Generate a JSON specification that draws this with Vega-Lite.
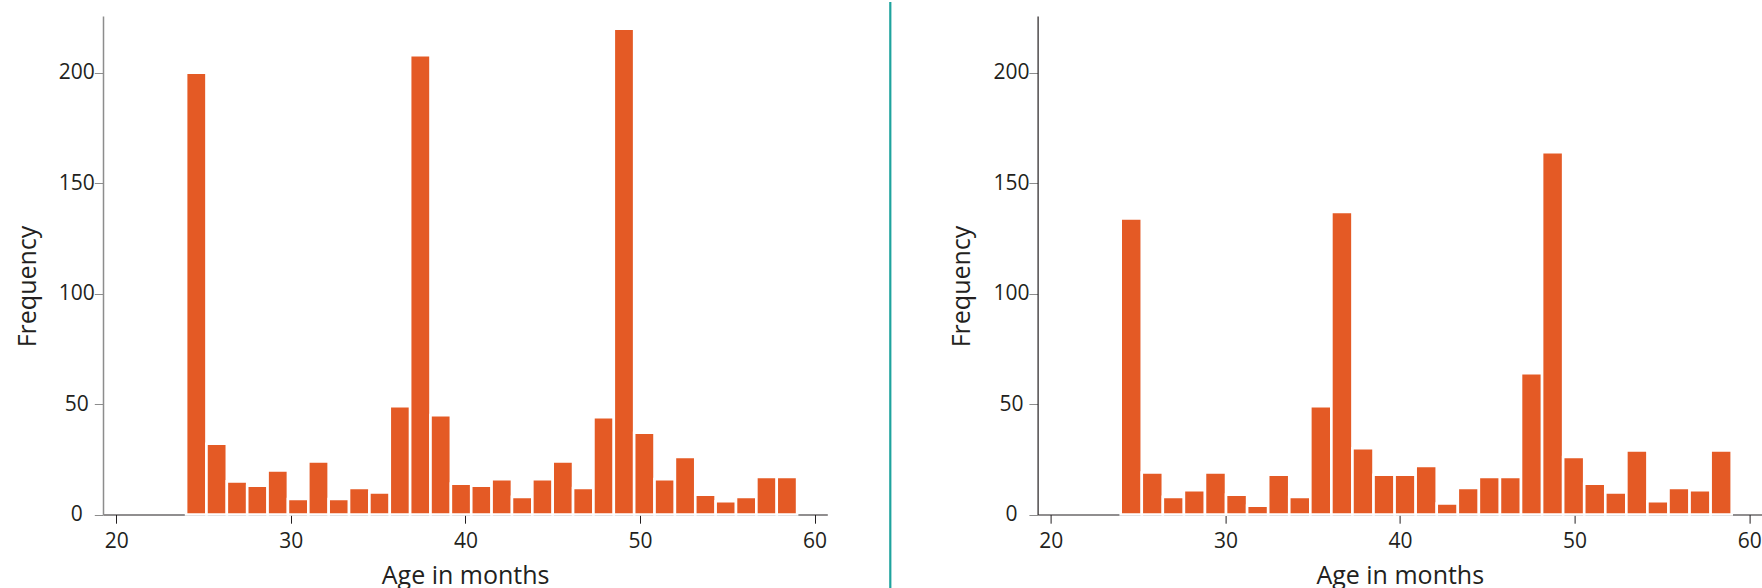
{
  "$schema": "https://vega.github.io/schema/vega-lite/v6.json",
  "background": "white",
  "padding": {"left": 15, "top": 0, "right": 0, "bottom": 0},
  "bounds": "flush",
  "spacing": 62.3,
  "config": {
    "view": {"stroke": null},
    "axis": {
      "grid": false,
      "labelFont": "Open Sans",
      "titleFont": "Open Sans",
      "labelFontSize": 21,
      "titleFontSize": 25,
      "titleFontWeight": "normal",
      "labelColor": "#231f20",
      "titleColor": "#231f20",
      "tickSize": 8.7,
      "labelFlush": false,
      "labelOverlap": false,
      "zindex": 1
    }
  },
  "datasets": {
    "left": [
      {"bin_start": 24.0, "bin_end": 25.1667, "count": 200},
      {"bin_start": 25.1667, "bin_end": 26.3333, "count": 32},
      {"bin_start": 26.3333, "bin_end": 27.5, "count": 15},
      {"bin_start": 27.5, "bin_end": 28.6667, "count": 13},
      {"bin_start": 28.6667, "bin_end": 29.8333, "count": 20},
      {"bin_start": 29.8333, "bin_end": 31.0, "count": 7},
      {"bin_start": 31.0, "bin_end": 32.1667, "count": 24},
      {"bin_start": 32.1667, "bin_end": 33.3333, "count": 7},
      {"bin_start": 33.3333, "bin_end": 34.5, "count": 12},
      {"bin_start": 34.5, "bin_end": 35.6667, "count": 10},
      {"bin_start": 35.6667, "bin_end": 36.8333, "count": 49},
      {"bin_start": 36.8333, "bin_end": 38.0, "count": 208},
      {"bin_start": 38.0, "bin_end": 39.1667, "count": 45},
      {"bin_start": 39.1667, "bin_end": 40.3333, "count": 14},
      {"bin_start": 40.3333, "bin_end": 41.5, "count": 13},
      {"bin_start": 41.5, "bin_end": 42.6667, "count": 16},
      {"bin_start": 42.6667, "bin_end": 43.8333, "count": 8},
      {"bin_start": 43.8333, "bin_end": 45.0, "count": 16},
      {"bin_start": 45.0, "bin_end": 46.1667, "count": 24},
      {"bin_start": 46.1667, "bin_end": 47.3333, "count": 12},
      {"bin_start": 47.3333, "bin_end": 48.5, "count": 44},
      {"bin_start": 48.5, "bin_end": 49.6667, "count": 220},
      {"bin_start": 49.6667, "bin_end": 50.8333, "count": 37},
      {"bin_start": 50.8333, "bin_end": 52.0, "count": 16},
      {"bin_start": 52.0, "bin_end": 53.1667, "count": 26},
      {"bin_start": 53.1667, "bin_end": 54.3333, "count": 9},
      {"bin_start": 54.3333, "bin_end": 55.5, "count": 6},
      {"bin_start": 55.5, "bin_end": 56.6667, "count": 8},
      {"bin_start": 56.6667, "bin_end": 57.8333, "count": 17},
      {"bin_start": 57.8333, "bin_end": 59.0, "count": 17}
    ],
    "right": [
      {"bin_start": 24.0, "bin_end": 25.2069, "count": 134},
      {"bin_start": 25.2069, "bin_end": 26.4138, "count": 19},
      {"bin_start": 26.4138, "bin_end": 27.6207, "count": 8},
      {"bin_start": 27.6207, "bin_end": 28.8276, "count": 11},
      {"bin_start": 28.8276, "bin_end": 30.0345, "count": 19},
      {"bin_start": 30.0345, "bin_end": 31.2414, "count": 9},
      {"bin_start": 31.2414, "bin_end": 32.4483, "count": 4},
      {"bin_start": 32.4483, "bin_end": 33.6552, "count": 18},
      {"bin_start": 33.6552, "bin_end": 34.8621, "count": 8},
      {"bin_start": 34.8621, "bin_end": 36.069, "count": 49},
      {"bin_start": 36.069, "bin_end": 37.2759, "count": 137},
      {"bin_start": 37.2759, "bin_end": 38.4828, "count": 30},
      {"bin_start": 38.4828, "bin_end": 39.6897, "count": 18},
      {"bin_start": 39.6897, "bin_end": 40.8966, "count": 18},
      {"bin_start": 40.8966, "bin_end": 42.1034, "count": 22},
      {"bin_start": 42.1034, "bin_end": 43.3103, "count": 5},
      {"bin_start": 43.3103, "bin_end": 44.5172, "count": 12},
      {"bin_start": 44.5172, "bin_end": 45.7241, "count": 17},
      {"bin_start": 45.7241, "bin_end": 46.931, "count": 17},
      {"bin_start": 46.931, "bin_end": 48.1379, "count": 64},
      {"bin_start": 48.1379, "bin_end": 49.3448, "count": 164},
      {"bin_start": 49.3448, "bin_end": 50.5517, "count": 26},
      {"bin_start": 50.5517, "bin_end": 51.7586, "count": 14},
      {"bin_start": 51.7586, "bin_end": 52.9655, "count": 10},
      {"bin_start": 52.9655, "bin_end": 54.1724, "count": 29},
      {"bin_start": 54.1724, "bin_end": 55.3793, "count": 6},
      {"bin_start": 55.3793, "bin_end": 56.5862, "count": 12},
      {"bin_start": 56.5862, "bin_end": 57.7931, "count": 11},
      {"bin_start": 57.7931, "bin_end": 59.0, "count": 29}
    ],
    "separator": [{"pos": 0}]
  },
  "hconcat": [
    {
      "width": 724.3,
      "height": 512.5,
      "data": {"name": "left"},
      "mark": {"type": "bar", "orient": "vertical", "fill": "#e45a25", "stroke": "white", "strokeWidth": 2.6},
      "encoding": {
        "x": {
          "field": "bin_start",
          "type": "quantitative",
          "scale": {"domain": [19.24, 60.73], "nice": false, "zero": false, "padding": 0},
          "axis": {
            "title": "Age in months",
            "values": [20, 30, 40, 50, 60],
            "domainColor": "#231f20",
            "domainWidth": 1.2,
            "tickColor": "#231f20",
            "tickWidth": 1,
            "labelPadding": 7,
            "titleY": 69.2,
            "titleBaseline": "alphabetic"
          }
        },
        "x2": {"field": "bin_end"},
        "y": {
          "field": "count",
          "type": "quantitative",
          "scale": {"domain": [0, 225.7], "range": [512.5, 14], "nice": false, "zero": true},
          "axis": {
            "title": "Frequency",
            "values": [0, 50, 100, 150, 200],
            "domainColor": "#8d8d8d",
            "domainWidth": 1.5,
            "tickColor": "#8d8d8d",
            "tickWidth": 1,
            "labelAlign": "center",
            "labelPadding": 18,
            "titleX": -67.7,
            "titleY": 284,
            "titleAngle": 270,
            "titleAlign": "center",
            "titleBaseline": "alphabetic"
          }
        }
      }
    },
    {
      "width": 84.1,
      "height": 588,
      "data": {"name": "separator"},
      "mark": {"type": "rule", "color": "#1fa39e", "strokeWidth": 2.2},
      "encoding": {
        "x": {
          "field": "pos",
          "type": "quantitative",
          "scale": {"domain": [0, 1], "padding": 0},
          "axis": null
        }
      }
    },
    {
      "width": 724.3,
      "height": 512.5,
      "data": {"name": "right"},
      "mark": {"type": "bar", "orient": "vertical", "fill": "#e45a25", "stroke": "white", "strokeWidth": 2.6},
      "encoding": {
        "x": {
          "field": "bin_start",
          "type": "quantitative",
          "scale": {"domain": [19.24, 60.73], "nice": false, "zero": false, "padding": 0},
          "axis": {
            "title": "Age in months",
            "values": [20, 30, 40, 50, 60],
            "domainColor": "#231f20",
            "domainWidth": 1.2,
            "tickColor": "#231f20",
            "tickWidth": 1,
            "labelPadding": 7,
            "titleY": 69.2,
            "titleBaseline": "alphabetic"
          }
        },
        "x2": {"field": "bin_end"},
        "y": {
          "field": "count",
          "type": "quantitative",
          "scale": {"domain": [0, 225.7], "range": [512.5, 14], "nice": false, "zero": true},
          "axis": {
            "title": "Frequency",
            "values": [0, 50, 100, 150, 200],
            "domainColor": "#231f20",
            "domainWidth": 1.2,
            "tickColor": "#8d8d8d",
            "tickWidth": 1,
            "labelAlign": "center",
            "labelPadding": 18,
            "titleX": -67.7,
            "titleY": 284,
            "titleAngle": 270,
            "titleAlign": "center",
            "titleBaseline": "alphabetic"
          }
        }
      }
    }
  ]
}
